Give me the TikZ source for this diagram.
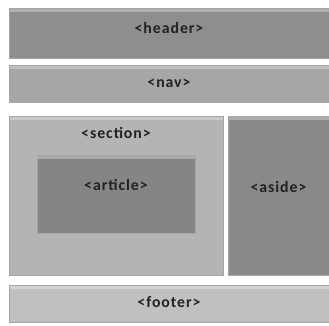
\documentclass[tikz,border=0pt]{standalone}
\usepackage{fontspec}
\setmainfont{Carlito}
\newfontfamily\tagfont[LetterSpace=6]{Carlito}
\usepackage{tikz}

\definecolor{hdrgray}{HTML}{8E8E8E}
\definecolor{navgray}{HTML}{A6A6A6}
\definecolor{secgray}{HTML}{B4B4B4}
\definecolor{artgray}{HTML}{858585}
\definecolor{asdgray}{HTML}{898989}
\definecolor{ftrgray}{HTML}{C0C0C0}
\definecolor{txtgray}{HTML}{222222}

\begin{document}
\begin{tikzpicture}[
    box/.style={rectangle, anchor=north west, inner sep=0pt, outer sep=0pt,
                draw=black!35, line width=0.3pt,
                path picture={\fill[white, opacity=0.3]
                    (path picture bounding box.north west) rectangle
                    ([yshift=-3pt]path picture bounding box.north east);}},
    tag/.style={anchor=center, text=txtgray,
                font=\tagfont\fontsize{13.5}{15}\selectfont\bfseries},
]

\useasboundingbox[fill=white] (0,0) rectangle (9.87,-9.75);

% Bandes
\node[box, fill=hdrgray, minimum width=9.6cm, minimum height=1.5cm,
      label={[tag, yshift=0.15cm]center:<header>}]
    (header) at (0.27,-0.24) {};

\node[box, fill=navgray, minimum width=9.6cm, minimum height=1.11cm,
      label={[tag]center:<nav>}]
    (nav) at (0.27,-1.95) {};

% Contenu
\node[box, fill=secgray, minimum width=6.42cm, minimum height=4.77cm,
      label={[tag, yshift=-0.51cm]north:<section>}]
    (section) at (0.27,-3.48) {};

\node[box, fill=artgray, minimum width=4.74cm, minimum height=2.34cm,
      label={[tag, yshift=0.27cm]center:<article>}]
    (article) at (1.11,-4.65) {};

\node[box, fill=asdgray, minimum width=3.03cm, minimum height=4.77cm,
      label={[tag, yshift=0.25cm]center:<aside>}]
    (aside) at (6.84,-3.48) {};

\node[box, fill=ftrgray, minimum width=9.6cm, minimum height=1.11cm,
      label={[tag, yshift=0.05cm]center:<footer>}]
    (footer) at (0.27,-8.55) {};

\end{tikzpicture}
\end{document}
